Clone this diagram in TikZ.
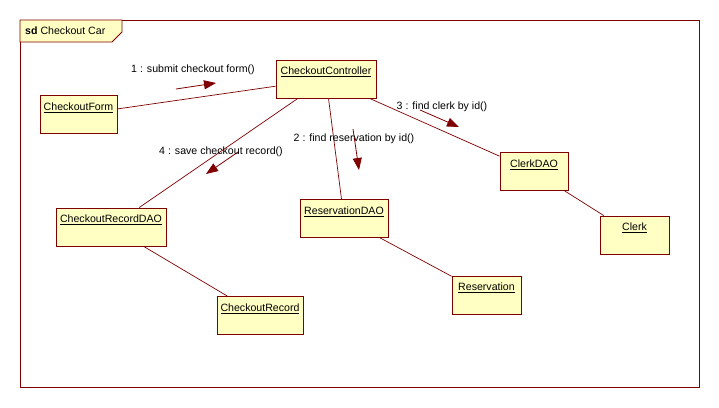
\documentclass[tikz,border=0pt]{standalone}
\usepackage{fontspec}
\setmainfont{Liberation Sans}
\usetikzlibrary{arrows.meta}
\definecolor{linkred}{HTML}{800000}
\definecolor{objfill}{HTML}{FFFFC4}
\begin{document}
\begin{tikzpicture}[x=1pt,y=-1pt,
  every node/.style={font=\fontsize{10.6}{12}\selectfont},
  obj/.style={draw=linkred,fill=objfill,line width=0.9pt,minimum height=38pt,inner sep=0pt},
  link/.style={draw=linkred,line width=0.7pt},
  msg/.style={draw=linkred,line width=0.8pt,-{Triangle[length=12pt,width=9pt]}},
  msglabel/.style={inner sep=0pt}]
\useasboundingbox (0,0) rectangle (719,407);
\fill[white] (0,0) rectangle (719,407);

% diagram frame with its name tab
\draw[linkred,line width=0.8pt] (20,20) rectangle (699,387);
\filldraw[draw=linkred,fill=objfill,line width=0.8pt]
  (20,20) -- (122,20) -- (122,32) -- (112,42) -- (20,42) -- cycle;
\node[anchor=west,inner sep=0pt] (title) at (25,31) {\textbf{sd} Checkout Car};

% objects
\newcommand{\objname}[1]{\underline{#1}}
\node[obj,minimum width=77pt] (cf) at (78.5,114.5) {};
\node[obj,minimum width=100pt] (cc) at (326,79) {};
\node[obj,minimum width=68pt] (clerkdao) at (534,171.5) {};
\node[obj,minimum width=69pt] (clerk) at (634.5,235) {};
\node[obj,minimum width=69pt] (res) at (486.5,295) {};
\node[obj,minimum width=110pt] (crdao) at (111,227) {};
\node[obj,minimum width=86pt] (cr) at (260,315.5) {};
\node[obj,minimum width=88pt] (resdao) at (344,218.5) {};

\foreach \n/\t in {cf/CheckoutForm,cc/CheckoutController,clerkdao/ClerkDAO,clerk/Clerk,
                   res/Reservation,crdao/CheckoutRecordDAO,cr/CheckoutRecord,resdao/ReservationDAO}
  \node[anchor=north,inner sep=0pt] (\n-name) at ([yshift=-7.5pt]\n.north) {\objname{\t}};

% links
\draw[link] (cf) -- (cc);
\draw[link] (cc) -- (crdao);
\draw[link] (cc) -- (resdao);
\draw[link] (cc) -- (clerkdao);
\draw[link] (clerkdao) -- (clerk);
\draw[link] (resdao) -- (res);
\draw[link] (crdao) -- (cr);

% messages
\coordinate (m1a) at (176,89);   \coordinate (m1b) at (216,83);
\coordinate (m2a) at (353,129);  \coordinate (m2b) at (359,170);
\coordinate (m3a) at (420,110);  \coordinate (m3b) at (459,127);
\coordinate (m4a) at (238,152);  \coordinate (m4b) at (206,174);
\draw[msg] (m1a) -- (m1b);
\draw[msg] (m2a) -- (m2b);
\draw[msg] (m3a) -- (m3b);
\draw[msg] (m4a) -- (m4b);

\node[msglabel] (l1) at (193,70) {1 : submit checkout form()};
\node[msglabel] (l2) at (354,139) {2 : find reservation by id()};
\node[msglabel] (l3) at (442,107) {3 : find clerk by id()};
\node[msglabel] (l4) at (221,152) {4 : save checkout record()};
\end{tikzpicture}
\end{document}
